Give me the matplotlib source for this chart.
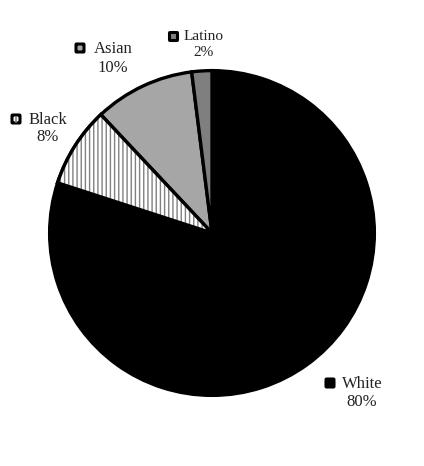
import matplotlib
matplotlib.use("Agg")
import matplotlib.pyplot as plt
from matplotlib.patches import Wedge, FancyBboxPatch
from matplotlib.lines import Line2D

categories = ["White", "Black", "Asian", "Latino"]
values = [80, 8, 10, 2]
pct_labels = ["80%", "8%", "10%", "2%"]
colors = ["#000000", "#ffffff", "#a6a6a6", "#7f7f7f"]
hatches = [None, "||||", None, None]

W, H = 424, 466
fig = plt.figure(figsize=(W / 100, H / 100), dpi=100)
fig.patch.set_facecolor("white")

cx, cy, r = 212, 233, 164
ax = fig.add_axes([(cx - r) / W, (H - cy - r) / H, 2 * r / W, 2 * r / H])
ax.set_aspect("equal")
ax.axis("off")

wedges, _ = ax.pie(values, colors=colors, startangle=90, counterclock=False,
                   radius=1, center=(0, 0),
                   wedgeprops=dict(edgecolor="black", linewidth=2.4))
ax.set_xlim(-1.01, 1.01)
ax.set_ylim(-1.01, 1.01)

# hatch for patterned slice
for w, h in zip(wedges, hatches):
    if h:
        hw = Wedge(w.center, w.r, w.theta1, w.theta2, facecolor="white",
                   edgecolor="#808080", hatch=h, linewidth=0, zorder=w.get_zorder() + 0.1)
        ax.add_patch(hw)
        ow = Wedge(w.center, w.r, w.theta1, w.theta2, facecolor="none",
                   edgecolor="black", linewidth=2.4, zorder=w.get_zorder() + 0.2)
        ax.add_patch(ow)

# label layout (pixel positions): text x, line1 y, line2 y, marker x, marker y
label_pos = {
    "White": (362, 384, 402, 330, 383),
    "Black": (48, 120, 137, 16, 119),
    "Asian": (113, 49, 68, 80, 48),
    "Latino": (204, 36, 53, 173.5, 36.5),
}
font_sizes = {"White": 12, "Black": 12, "Asian": 12, "Latino": 11}

def fx(x):
    return x / W

def fy(y):
    return 1 - y / H

def square(mx, my, s, **kw):
    p = FancyBboxPatch((fx(mx - s / 2), fy(my + s / 2)), s / W, s / H,
                       boxstyle="round,pad=0,rounding_size=0.0015",
                       transform=fig.transFigure, **kw)
    fig.patches.append(p)

for cat, pct, col, h in zip(categories, pct_labels, colors, hatches):
    tx, ty1, ty2, mx, my = label_pos[cat]
    fs = font_sizes[cat]
    fig.text(fx(tx), fy(ty1), cat, ha="center", va="center", fontsize=fs,
             family="Liberation Serif", color="#222222")
    fig.text(fx(tx), fy(ty2), pct, ha="center", va="center", fontsize=fs,
             family="Liberation Serif", color="#222222")
    s = 8
    if h:
        square(mx, my, s, facecolor="white", edgecolor="black", linewidth=2.2)
        fig.lines.append(Line2D([fx(mx), fx(mx)], [fy(my - 2.5), fy(my + 2.5)],
                                transform=fig.transFigure, color="#808080", linewidth=1.2))
    else:
        square(mx, my, s, facecolor=col, edgecolor="black", linewidth=2.2)

fig.savefig("out.png", dpi=100, facecolor="white")
